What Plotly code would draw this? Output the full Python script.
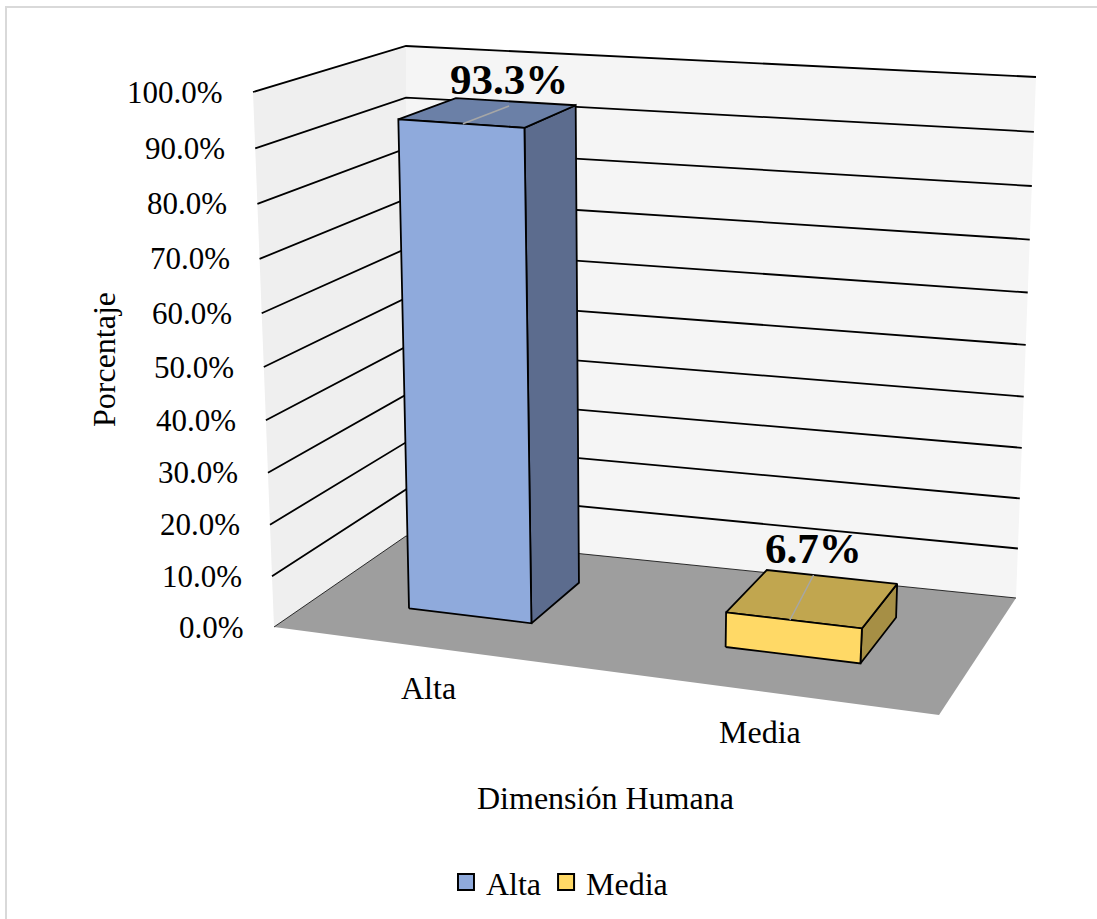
import numpy as np
import plotly.graph_objects as go

categories = ["Alta", "Media"]
values = [93.3, 6.7]
value_labels = ["93.3%", "6.7%"]
ticks = [0, 10, 20, 30, 40, 50, 60, 70, 80, 90, 100]
tick_labels = ["0.0%", "10.0%", "20.0%", "30.0%", "40.0%", "50.0%", "60.0%", "70.0%", "80.0%", "90.0%", "100.0%"]
axis_x_title = "Dimensión Humana"
axis_y_title = "Porcentaje"

front_colors = ["#8faadc", "#ffd966"]
top_colors = ["#6b80a7", "#c1a64f"]
side_colors = ["#5c6c8e", "#a68f45"]
FONT = "Liberation Serif"

# Box calibration: plane corners on screen, order (x,depth) = (0,0),(1,0),(1,1),(0,1)
floor_quad = [(274, 627), (939, 715), (1016, 598), (406, 536)]
roof_quad = [(253, 92), (988, 145), (1036, 77), (406, 46)]
value_k = 1.058


def homography(quad):
    src = [(0, 0), (1, 0), (1, 1), (0, 1)]
    A, b = [], []
    for (X, Y), (u, v) in zip(src, quad):
        A.append([X, Y, 1, 0, 0, 0, -u * X, -u * Y]); b.append(u)
        A.append([0, 0, 0, X, Y, 1, -v * X, -v * Y]); b.append(v)
    return np.append(np.linalg.solve(np.array(A, float), np.array(b, float)), 1).reshape(3, 3)


H0, H1 = homography(floor_quad), homography(roof_quad)


def proj(x, y, val):
    z = val / 100
    s = z / (z + value_k * (1 - z))
    a = H0 @ np.array([x, y, 1.0]); a = a[:2] / a[2]
    c = H1 @ np.array([x, y, 1.0]); c = c[:2] / c[2]
    q = a + s * (c - a)
    return float(q[0]), float(q[1])


def poly(fig, pts, fill, line="rgba(0,0,0,0)", width=0):
    xy = [proj(*q) for q in pts + pts[:1]]
    fig.add_trace(go.Scatter(x=[c[0] for c in xy], y=[c[1] for c in xy], mode="lines", fill="toself",
                             fillcolor=fill, line=dict(color=line, width=width), hoverinfo="skip", showlegend=False))


def seg(fig, pts, color, width):
    xy = [proj(*q) for q in pts]
    fig.add_trace(go.Scatter(x=[c[0] for c in xy], y=[c[1] for c in xy], mode="lines",
                             line=dict(color=color, width=width), hoverinfo="skip", showlegend=False))


fig = go.Figure()
poly(fig, [(0, 0, 0), (0, 1, 0), (0, 1, 100), (0, 0, 100)], "#efefef")
poly(fig, [(0, 1, 0), (1, 1, 0), (1, 1, 100), (0, 1, 100)], "#f5f5f5")
poly(fig, [(0, 0, 0), (1, 0, 0), (1, 1, 0), (0, 1, 0)], "#9e9e9e")
for t in ticks:
    seg(fig, [(0, 0, t), (0, 1, t), (1, 1, t)], "#000000", 1.8 if t else 0.8)

annotations = []


def label(x, y, text, size=32, bold=False, **kw):
    annotations.append(dict(x=x, y=y, text=f"<b>{text}</b>" if bold else text, showarrow=False,
                            font=dict(family=FONT, size=size, color="#000000"), **kw))


bar_x = [(0.164, 0.37), (0.67, 0.861)]
depth = (0.305, 0.715)
# leader line from the front edge of the bar top to the value label: (x, depth) of each end
leader_start = [(0.272, 0.305), (0.7615, 0.305)]
leader_tip = [(0.275, 0.635), (0.74, 0.715)]
for i, v in enumerate(values):
    x0, x1 = bar_x[i]
    y0, y1 = depth
    poly(fig, [(x1, y0, 0), (x1, y1, 0), (x1, y1, v), (x1, y0, v)], side_colors[i], "#000000", 1.8)
    poly(fig, [(x0, y0, v), (x1, y0, v), (x1, y1, v), (x0, y1, v)], top_colors[i], "#000000", 1.8)
    poly(fig, [(x0, y0, 0), (x1, y0, 0), (x1, y0, v), (x0, y0, v)], front_colors[i], "#000000", 1.8)
    seg(fig, [(*leader_start[i], v), (*leader_tip[i], v)], "#a6a6a6", 1.5)
    lx, ly = proj(*leader_tip[i], v)
    label(lx, ly, value_labels[i], size=43, bold=True, yshift=26)
    cx, cy = proj((i + 0.5) / 2, 0, 0)
    label(cx, cy, categories[i], xshift=10, yshift=-42)

for t, s in zip(ticks, tick_labels):
    tx, ty = proj(0, 0, t)
    label(tx - 28, ty, s, size=31, xanchor="right")

label(605, 798, axis_x_title)
label(104, 360, axis_y_title, textangle=-90)

for i, c in enumerate(categories):
    fig.add_trace(go.Scatter(x=[None], y=[None], mode="markers", name=c,
                             marker=dict(symbol="square", size=16, color=front_colors[i],
                                         line=dict(color="#000000", width=2))))

fig.update_layout(
    width=1097, height=919, margin=dict(l=0, r=0, t=0, b=0),
    paper_bgcolor="#ffffff", plot_bgcolor="#ffffff",
    xaxis=dict(range=[0, 1097], visible=False, fixedrange=True),
    yaxis=dict(range=[919, 0], visible=False, fixedrange=True),
    annotations=annotations,
    shapes=[dict(type="rect", xref="x", yref="y", x0=6, y0=7, x1=1120, y1=940,
                 line=dict(color="#d9d9d9", width=2), layer="below")],
    legend=dict(orientation="h", x=0.51, xanchor="center", y=0.04, yanchor="middle",
                font=dict(family=FONT, size=32, color="#000000"), bgcolor="rgba(0,0,0,0)"),
)
fig.write_html("out.html", config={"displayModeBar": False}, post_script="document.body.style.margin='0';")
